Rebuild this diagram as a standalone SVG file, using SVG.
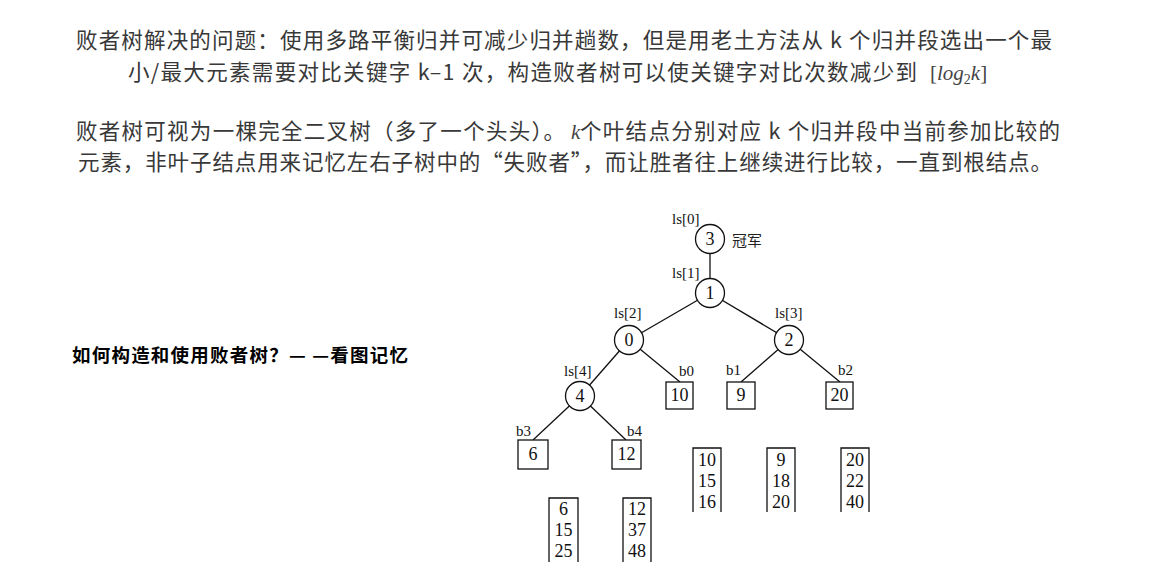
<svg xmlns="http://www.w3.org/2000/svg" width="1166" height="571" viewBox="0 0 1166 571">
<style>
.t{font-family:"Noto Sans CJK SC","Noto Sans",sans-serif;font-size:21.5px;fill:#383838}
.m{font-family:"Liberation Serif","DejaVu Serif",serif;fill:#444}
.b{font-family:"Noto Sans CJK SC","Noto Sans",sans-serif;font-size:18.5px;font-weight:bold;fill:#000}
.c{fill:#fff;stroke:#111;stroke-width:1.3}
.r{fill:#fff;stroke:#111;stroke-width:1.3}
.col{fill:none;stroke:#111;stroke-width:1.3}
.n{font-family:"Liberation Serif","DejaVu Serif",serif;font-size:18px;fill:#111;text-anchor:middle}
.l{font-family:"Liberation Serif","DejaVu Serif",serif;font-size:15px;fill:#111}
.e{stroke:#111;stroke-width:1.3;fill:none}
</style>
<rect width="1166" height="571" fill="#fff"/>
<g id="intro">
<text class="t" x="76" y="48" textLength="976">败者树解决的问题：使用多路平衡归并可减少归并趟数，但是用老土方法从 k 个归并段选出一个最</text>
<text class="t" x="128" y="80" textLength="789">小/最大元素需要对比关键字 k–1 次，构造败者树可以使关键字对比次数减少到</text>
<text class="m" x="930" y="80" font-size="21">[<tspan font-style="italic">log</tspan><tspan font-size="14" dy="4">2</tspan><tspan font-style="italic" dy="-4">k</tspan>]</text>
<text class="t" x="76" y="139" textLength="489">败者树可视为一棵完全二叉树（多了一个头头）。</text>
<text class="m" x="571" y="139" font-size="21" font-style="italic">k</text>
<text class="t" x="580" y="139" textLength="480">个叶结点分别对应 k 个归并段中当前参加比较的</text>
<text class="t" x="78" y="170" textLength="974">元素，非叶子结点用来记忆左右子树中的“失败者”，而让胜者往上继续进行比较，一直到根结点。</text>
</g>
<g id="label">
<text class="b" x="72" y="362" textLength="336">如何构造和使用败者树？— —看图记忆</text>
</g>
<g id="connectors">
<line class="e" x1="710" y1="239" x2="710" y2="293"/>
<line class="e" x1="710" y1="293" x2="629" y2="340"/>
<line class="e" x1="710" y1="293" x2="789" y2="340"/>
<line class="e" x1="629" y1="340" x2="580" y2="396"/>
<line class="e" x1="629" y1="340" x2="680" y2="382"/>
<line class="e" x1="789" y1="340" x2="741" y2="382"/>
<line class="e" x1="789" y1="340" x2="840" y2="382"/>
<line class="e" x1="580" y1="396" x2="533" y2="440"/>
<line class="e" x1="580" y1="396" x2="626" y2="440"/>
</g>
<g id="ls0">
<circle class="c" cx="710" cy="239" r="14.5"/>
<text class="n" x="710" y="245">3</text>
<text class="l" x="672" y="224">ls[0]</text>
<text x="732" y="246" font-family="Noto Sans CJK SC,sans-serif" font-size="15" fill="#222">冠军</text>
</g>
<g id="ls1">
<circle class="c" cx="710" cy="293" r="14.5"/>
<text class="n" x="710" y="299">1</text>
<text class="l" x="672" y="278">ls[1]</text>
</g>
<g id="ls2">
<circle class="c" cx="629" cy="340" r="14.5"/>
<text class="n" x="629" y="346">0</text>
<text class="l" x="614" y="318">ls[2]</text>
</g>
<g id="ls3">
<circle class="c" cx="789" cy="340" r="14.5"/>
<text class="n" x="789" y="346">2</text>
<text class="l" x="775" y="318">ls[3]</text>
</g>
<g id="ls4">
<circle class="c" cx="580" cy="396" r="14.5"/>
<text class="n" x="580" y="402">4</text>
<text class="l" x="564" y="376">ls[4]</text>
</g>
<g id="b0">
<rect class="r" x="666" y="382" width="27" height="27"/>
<text class="n" x="679.5" y="401">10</text>
<text class="l" x="679" y="376">b0</text>
</g>
<g id="b1">
<rect class="r" x="727" y="382" width="28" height="27"/>
<text class="n" x="741" y="401">9</text>
<text class="l" x="726" y="375">b1</text>
</g>
<g id="b2">
<rect class="r" x="826" y="382" width="27" height="27"/>
<text class="n" x="839.5" y="401">20</text>
<text class="l" x="838" y="375">b2</text>
</g>
<g id="b3">
<rect class="r" x="518" y="440" width="30" height="29"/>
<text class="n" x="533" y="460">6</text>
<text class="l" x="516" y="436">b3</text>
</g>
<g id="b4">
<rect class="r" x="612" y="440" width="29" height="29"/>
<text class="n" x="626.5" y="460">12</text>
<text class="l" x="627" y="436">b4</text>
</g>
<g id="seg0">
<path class="col" d="M693,512V448H721V512"/>
<text class="n" x="707" y="466">10</text>
<text class="n" x="707" y="487">15</text>
<text class="n" x="707" y="508">16</text>
</g>
<g id="seg1">
<path class="col" d="M767,512V448H795V512"/>
<text class="n" x="781" y="466">9</text>
<text class="n" x="781" y="487">18</text>
<text class="n" x="781" y="508">20</text>
</g>
<g id="seg2">
<path class="col" d="M841,512V448H869V512"/>
<text class="n" x="855" y="466">20</text>
<text class="n" x="855" y="487">22</text>
<text class="n" x="855" y="508">40</text>
</g>
<g id="seg3">
<path class="col" d="M549,562V498H578V562"/>
<text class="n" x="563.5" y="515">6</text>
<text class="n" x="563.5" y="536">15</text>
<text class="n" x="563.5" y="557">25</text>
</g>
<g id="seg4">
<path class="col" d="M623,562V498H651V562"/>
<text class="n" x="637" y="515">12</text>
<text class="n" x="637" y="536">37</text>
<text class="n" x="637" y="557">48</text>
</g>
</svg>
